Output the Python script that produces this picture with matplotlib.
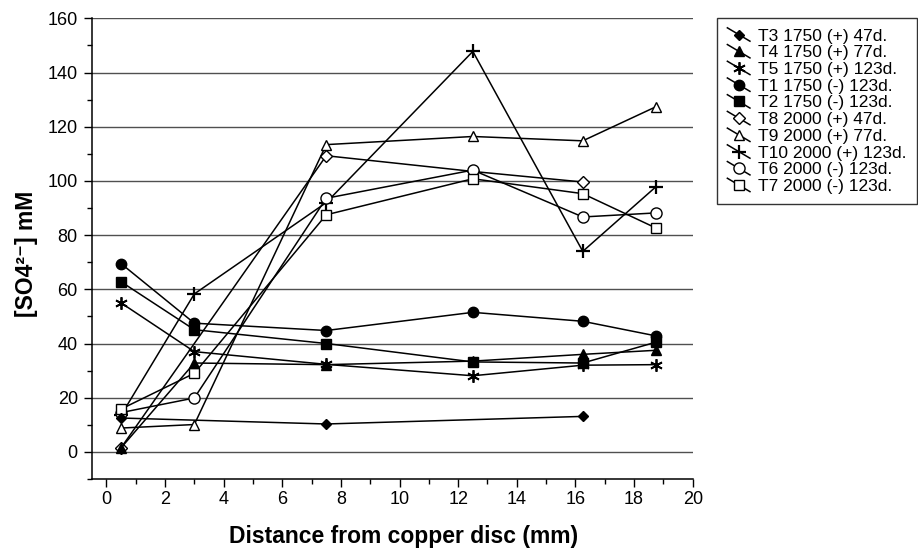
import matplotlib
matplotlib.use("Agg")
import matplotlib.pyplot as plt
from matplotlib.legend_handler import HandlerLine2D
from matplotlib.lines import Line2D
from matplotlib.ticker import MultipleLocator

plt.rcParams['font.family'] = ['Liberation Sans', 'DejaVu Sans']

# ---- data ----
labels = ["T3 1750 (+) 47d.", "T4 1750 (+) 77d.", "T5 1750 (+) 123d.",
          "T1 1750 (-) 123d.", "T2 1750 (-) 123d.", "T8 2000 (+) 47d.",
          "T9 2000 (+) 77d.", "T10 2000 (+) 123d.", "T6 2000 (-) 123d.",
          "T7 2000 (-) 123d."]

x_t3 = [0.5, 7.5, 16.25]
y_t3 = [12.5, 10.3, 13.1]
x_t4 = [0.5, 3, 7.5, 12.5, 16.25, 18.75]
y_t4 = [1.5, 32.8, 32.2, 33.5, 36.0, 37.5]
x_t5 = [0.5, 3, 7.5, 12.5, 16.25, 18.75]
y_t5 = [55.0, 37.0, 32.3, 28.1, 32.0, 32.2]
x_t1 = [0.5, 3, 7.5, 12.5, 16.25, 18.75]
y_t1 = [69.5, 47.5, 44.8, 51.5, 48.2, 42.8]
x_t2 = [0.5, 3, 7.5, 12.5, 16.25, 18.75]
y_t2 = [62.8, 45.1, 40.0, 33.2, 32.8, 40.5]
x_t8 = [0.5, 7.5, 12.5, 16.25]
y_t8 = [1.5, 109.3, 103.5, 99.6]
x_t9 = [0.5, 3, 7.5, 12.5, 16.25, 18.75]
y_t9 = [8.8, 10.1, 113.4, 116.4, 114.8, 127.4]
x_t10 = [0.5, 3, 7.5, 12.5, 16.25, 18.75]
y_t10 = [13.5, 58.3, 92.0, 147.8, 74.0, 97.9]
x_t6 = [0.5, 3, 7.5, 12.5, 16.25, 18.75]
y_t6 = [14.5, 19.9, 93.6, 104.0, 86.7, 88.2]
x_t7 = [0.5, 3, 7.5, 12.5, 16.25, 18.75]
y_t7 = [15.8, 29.0, 87.5, 100.8, 95.3, 82.6]

xs = [x_t3, x_t4, x_t5, x_t1, x_t2, x_t8, x_t9, x_t10, x_t6, x_t7]
ys = [y_t3, y_t4, y_t5, y_t1, y_t2, y_t8, y_t9, y_t10, y_t6, y_t7]

styles = [
    dict(marker='D', ms=5.5, mfc='black'),
    dict(marker='^', ms=7.5, mfc='black'),
    dict(marker=(6, 2, 0), ms=9, mfc='black', mew=1.3),
    dict(marker='o', ms=7.5, mfc='black'),
    dict(marker='s', ms=7, mfc='black'),
    dict(marker='D', ms=6, mfc='white', mew=1.0),
    dict(marker='^', ms=7.5, mfc='white', mew=1.0),
    dict(marker='+', ms=10, mfc='black', mew=1.6),
    dict(marker='o', ms=8, mfc='white', mew=1.0),
    dict(marker='s', ms=7.5, mfc='white', mew=1.0),
]
# open-marker series are drawn below the filled ones
draw_z = [4, 4, 4, 4, 4, 3, 3, 3, 3, 3]


class DiagHandler(HandlerLine2D):
    def create_artists(self, legend, orig_handle, xdescent, ydescent,
                       width, height, fontsize, trans):
        x0 = -xdescent
        x1 = -xdescent + width
        yc = -ydescent + height / 2.0
        dy = height * 0.55
        line = Line2D([x0, x1], [yc + dy, yc - dy])
        self.update_prop(line, orig_handle, legend)
        line.set_marker('None')
        mk = Line2D([(x0 + x1) / 2.0], [yc])
        self.update_prop(mk, orig_handle, legend)
        mk.set_linestyle('None')
        line.set_transform(trans)
        mk.set_transform(trans)
        return [line, mk]


fig = plt.figure(figsize=(9.18, 5.56), dpi=100)
ax = fig.add_axes([0.0999, 0.1385, 0.6547, 0.8285])

handles = []
for x, y, lab, st, z in zip(xs, ys, labels, styles, draw_z):
    h, = ax.plot(x, y, color='black', lw=1.1, mec='black', label=lab,
                 zorder=z, **st)
    handles.append(h)

ax.set_xlim(-0.5, 20)
ax.set_ylim(-10, 160)
ax.xaxis.set_major_locator(MultipleLocator(2))
ax.xaxis.set_minor_locator(MultipleLocator(1))
ax.yaxis.set_minor_locator(MultipleLocator(10))
ax.set_yticks(range(0, 161, 20))
ax.grid(axis='y', which='major', color='#505050', lw=1.0, zorder=1)
ax.set_axisbelow(True)

for s in ['top', 'right']:
    ax.spines[s].set_visible(False)
for s in ['left', 'bottom']:
    ax.spines[s].set_linewidth(1.1)
    ax.spines[s].set_color('black')

ax.tick_params(axis='both', which='major', length=6, width=1.0,
               labelsize=13, direction='out')
ax.tick_params(axis='both', which='minor', length=3.5, width=1.0,
               direction='out')
ax.tick_params(axis='y', pad=4)
ax.tick_params(axis='x', pad=3)

fig.text(404 / 918, 1 - 536 / 556, 'Distance from copper disc (mm)',
         fontsize=16.5, fontweight='bold', ha='center', va='center')
fig.text(27 / 918, 1 - 254 / 556, '[SO4\u00b2\u207b] mM',
         fontsize=16.5, fontweight='bold', ha='center', va='center',
         rotation=90)

leg = fig.legend(handles=handles, labels=labels, loc='upper left',
                 bbox_to_anchor=(0.781, 0.9676), frameon=True, fancybox=False,
                 edgecolor='black', fontsize=12.5, handlelength=1.3,
                 handletextpad=0.45, labelspacing=0.09, borderpad=0.6,
                 borderaxespad=0.0,
                 handler_map={Line2D: DiagHandler()})
leg.get_frame().set_linewidth(1.0)

fig.savefig('out.png', dpi=100)
